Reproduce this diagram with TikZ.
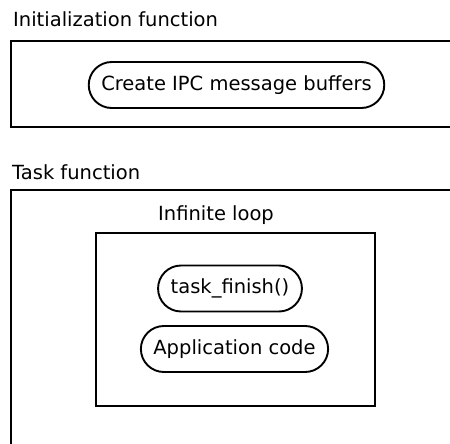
\documentclass[tikz,border=0pt]{standalone}
\usepackage{fontspec}
\setmainfont{DejaVu Sans}
\usetikzlibrary{positioning,shapes.misc}

\tikzset{
  frame/.style={draw, line width=1.9pt},
  call/.style={rounded rectangle, draw, line width=1.9pt, minimum height=46pt, inner xsep=10.5pt},
  caption/.style={anchor=base west, inner sep=0pt}
}

\begin{document}
\begin{tikzpicture}[x=1pt, y=-1pt, font=\fontsize{19.5}{23}\selectfont]
  \useasboundingbox (0,0) rectangle (450,444);
  \clip (0,0) rectangle (450,444);
  % initialization part
  \node[caption](inittitle) at (13,27){Initialization function};
  \draw[frame] (11,41) rectangle (470,127);
  \node[call](buffers) at (236.5,85){Create IPC message buffers};
  % task part
  \node[caption](tasktitle) at (12,179){Task function};
  \draw[frame] (11,190) rectangle (470,470);
  \node[caption](looptitle) at (158,220){Infinite loop};
  \draw[frame] (96,233) rectangle (375,406);
  \node[call](finish) at (230,288.5){task\_finish()};
  \node[call](appcode) at (234.5,349){Application code};
\end{tikzpicture}
\end{document}
